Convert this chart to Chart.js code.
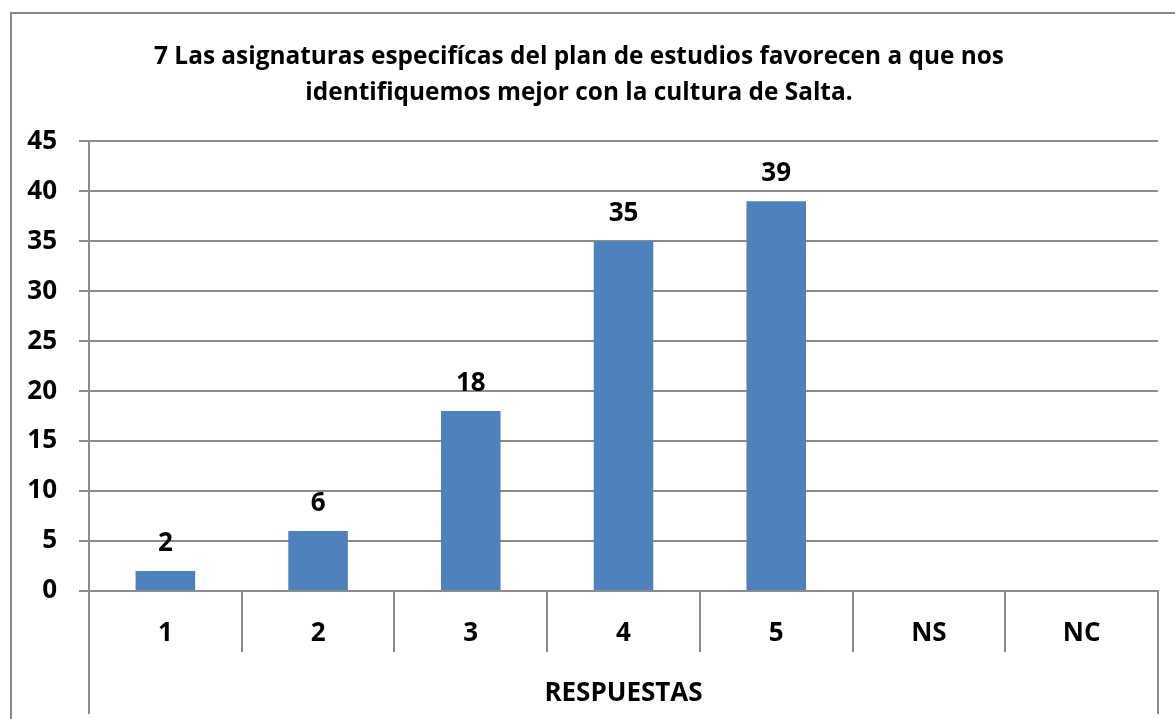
<!DOCTYPE html>
<html>
<head>
<meta charset="utf-8">
<script src="https://cdn.jsdelivr.net/npm/chart.js@4.4.0/dist/chart.umd.min.js"></script>
<style>
    html, body { margin: 0; padding: 0; background: #fff; overflow: hidden; }
    #frame {
        position: absolute; left: 10px; top: 12px;
        width: 1200px; height: 760px;
        border: 2px solid #898989;
    }
    #wrap { position: absolute; left: 0; top: 0; width: 1175px; height: 719px; }
</style>
</head>
<body>
<div id="frame"></div>
<div id="wrap"><canvas id="respuestasChart"></canvas></div>
<script>
const categorias = ['1', '2', '3', '4', '5', 'NS', 'NC'];
const valores = [2, 6, 18, 35, 39, null, null];
const tituloLineas = [
    '7 Las asignaturas especifícas del plan de estudios favorecen a que nos',
    'identifiquemos mejor con la cultura de Salta.'
];
const tituloEje = 'RESPUESTAS';

const fuente = '"Open Sans", Lato, sans-serif';
const gris = '#8c8c8c';

// etiquetas de valor encima de cada barra
const etiquetasPlugin = {
    id: 'etiquetas',
    afterDatasetsDraw(chart) {
        const ctx = chart.ctx;
        const meta = chart.getDatasetMeta(0);
        ctx.save();
        ctx.font = 'bold 26px ' + fuente;
        ctx.fillStyle = '#000';
        ctx.textAlign = 'center';
        ctx.textBaseline = 'alphabetic';
        meta.data.forEach(function(bar, i) {
            if (valores[i] == null) return;
            ctx.fillText(String(valores[i]), bar.x, bar.y - 20);
        });
        ctx.restore();
    }
};

// lineas del grupo exterior del eje de categorias
const grupoPlugin = {
    id: 'grupo',
    afterDraw(chart) {
        const ctx = chart.ctx;
        const area = chart.chartArea;
        ctx.save();
        ctx.strokeStyle = gris;
        ctx.lineWidth = 2;
        ctx.beginPath();
        ctx.moveTo(area.left, area.bottom);
        ctx.lineTo(area.left, 714);
        ctx.moveTo(area.right, area.bottom);
        ctx.lineTo(area.right, 714);
        ctx.stroke();
        ctx.restore();
    }
};

const chartData = {
    labels: categorias,
    datasets: [{
        data: valores,
        backgroundColor: '#4f81bd',
        borderColor: '#4f81bd',
        borderWidth: 0,
        barPercentage: 0.39,
        categoryPercentage: 1.0
    }]
};

const chartConfig = {
    type: 'bar',
    data: chartData,
    plugins: [etiquetasPlugin, grupoPlugin],
    options: {
        responsive: true,
        maintainAspectRatio: false,
        animation: false,
        layout: { padding: { left: 0, right: 17, top: 0, bottom: 0 } },
        plugins: {
            legend: { display: false },
            tooltip: { enabled: false },
            title: {
                display: true,
                text: tituloLineas,
                color: '#000',
                font: { family: fuente, size: 24.4, weight: 'bold', lineHeight: 1.48 },
                padding: { top: 39, bottom: 30 }
            }
        },
        scales: {
            x: {
                grid: {
                    offset: true,
                    drawOnChartArea: false,
                    color: gris,
                    lineWidth: 2,
                    tickLength: 61
                },
                border: { color: gris, width: 2 },
                ticks: {
                    color: '#000',
                    padding: -34,
                    font: { family: fuente, size: 26, weight: 'bold' }
                },
                title: {
                    display: true,
                    text: tituloEje,
                    color: '#000',
                    font: { family: fuente, size: 26, weight: 'bold' },
                    padding: { top: 0, bottom: 10 }
                },
                afterFit(scale) { scale.height = 128; }
            },
            y: {
                min: 0,
                max: 45,
                ticks: {
                    stepSize: 5,
                    color: '#000',
                    padding: 22,
                    font: { family: fuente, size: 26, weight: 'bold' }
                },
                grid: {
                    color: gris,
                    lineWidth: 2,
                    tickLength: 10
                },
                border: { color: gris, width: 2 },
                afterFit(scale) { scale.width = 89; }
            }
        }
    }
};

const myRespuestasChart = new Chart(
    document.getElementById('respuestasChart'),
    chartConfig
);
</script>
</body>
</html>
